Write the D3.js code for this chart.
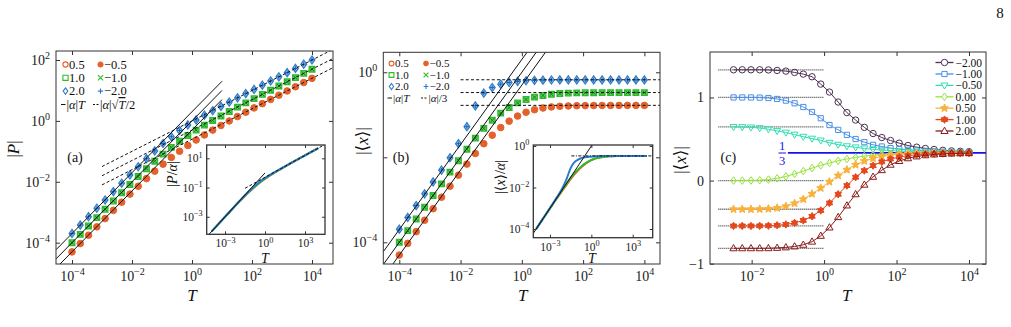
<!DOCTYPE html>
<html><head><meta charset="utf-8">
<script src="https://cdn.jsdelivr.net/npm/d3@7"></script>
<style>body{margin:0;background:#fff}svg{display:block}</style>
</head><body><svg id="c" width="1011" height="327"></svg>
<script>
const FONT='"Liberation Serif","DejaVu Serif",serif';
// ---------- data ----------
const T_ab=[1.000e-4,1.887e-4,3.562e-4,6.723e-4,1.269e-3,2.395e-3,4.520e-3,8.532e-3,1.610e-2,3.039e-2,5.736e-2,0.1083,0.2043,0.3857,0.7279,1.374,2.593,4.894,9.237,17.43,32.91,62.10,117.2,221.2,417.5,788.0,1487,2807,5298,10000];
const alphas_ab=[0.5,1.0,2.0];
const P_a05=[4.98e-5,9.37e-5,1.76e-4,3.31e-4,6.18e-4,1.153e-3,2.14e-3,3.94e-3,7.14e-3,0.01276,0.02234,0.0380,0.0630,0.1007,0.1563,0.2355,0.3459,0.4989,0.7079,0.9954,1.390,1.932,2.673,3.690,5.082,6.998,9.616,13.24,18.20,25.0];
const P_a10=[9.98e-5,1.88e-4,3.55e-4,6.68e-4,1.25e-3,2.34e-3,4.38e-3,8.11e-3,0.01486,0.02685,0.0474,0.0813,0.1349,0.2158,0.3334,0.4977,0.7244,1.035,1.455,2.032,2.825,3.899,5.383,7.413,10.21,14.06,19.28,26.49,36.39,50.0];
const P_a20=[2.00e-4,3.78e-4,7.13e-4,1.35e-3,2.53e-3,4.76e-3,8.95e-3,0.0168,0.0312,0.0574,0.1035,0.1807,0.303,0.483,0.736,1.079,1.538,2.158,3.0,4.15,5.71,7.89,10.8,14.9,20.4,28.1,38.5,53.0,72.8,100];
const X_b05=[5.01e-5,9.44e-5,1.78e-4,3.31e-4,6.17e-4,1.15e-3,2.09e-3,3.80e-3,6.92e-3,0.0123,0.0209,0.0331,0.0501,0.0708,0.0933,0.1148,0.1318,0.1445,0.1531,0.1585,0.1614,0.1633,0.1644,0.1652,0.1656,0.1660,0.1663,0.1663,0.1663,0.1663];
const X_b10=[1.00e-4,1.88e-4,3.55e-4,6.68e-4,1.26e-3,2.37e-3,4.47e-3,8.32e-3,0.0155,0.0282,0.0479,0.0741,0.1096,0.148,0.1905,0.229,0.260,0.285,0.305,0.316,0.324,0.327,0.330,0.331,0.332,0.333,0.333,0.333,0.333,0.333];
const X_b20=[2.04e-4,3.85e-4,7.33e-4,1.38e-3,2.63e-3,5.01e-3,9.77e-3,0.0209,0.0525,0.162,0.324,0.437,0.525,0.575,0.610,0.631,0.646,0.653,0.658,0.662,0.662,0.662,0.662,0.662,0.662,0.662,0.662,0.662,0.662,0.662];
const T_c=[0.003162,0.005503,0.009583,0.01668,0.02904,0.05054,0.08799,0.1532,0.2666,0.4642,0.8081,1.407,2.448,4.262,7.420,12.92,22.49,39.15,68.13,118.6,206.5,359.4,625.7,1089,1896,3300,5745,10000];
const labels_c=['\u22122.00','\u22121.00','\u22120.50','0.00','0.50','1.00','2.00'];
const X_cm200=[1.333,1.333,1.333,1.333,1.331,1.325,1.317,1.301,1.281,1.249,1.161,1.065,0.945,0.818,0.728,0.640,0.566,0.518,0.482,0.450,0.422,0.402,0.386,0.374,0.364,0.357,0.352,0.348];
const X_cm100=[1.0,1.0,1.0,0.998,0.993,0.982,0.962,0.930,0.885,0.825,0.750,0.668,0.610,0.550,0.500,0.462,0.430,0.410,0.390,0.378,0.370,0.362,0.357,0.352,0.348,0.345,0.342,0.340];
const X_cm050=[0.645,0.644,0.640,0.632,0.618,0.598,0.578,0.553,0.528,0.505,0.483,0.455,0.432,0.414,0.400,0.387,0.376,0.366,0.360,0.354,0.350,0.346,0.343,0.340,0.338,0.337,0.336,0.335];
const X_cp000=[0,0,0.001,0.004,0.012,0.027,0.050,0.080,0.114,0.150,0.183,0.212,0.238,0.260,0.279,0.294,0.306,0.315,0.321,0.325,0.328,0.330,0.331,0.332,0.333,0.333,0.333,0.333];
const X_cp050=[-0.345,-0.345,-0.345,-0.344,-0.340,-0.330,-0.310,-0.275,-0.225,-0.160,-0.090,-0.015,0.060,0.130,0.190,0.235,0.268,0.290,0.305,0.315,0.321,0.325,0.328,0.330,0.331,0.332,0.333,0.333];
const X_cp100=[-0.546,-0.546,-0.546,-0.545,-0.543,-0.538,-0.528,-0.510,-0.480,-0.430,-0.360,-0.270,-0.165,-0.060,0.040,0.120,0.180,0.225,0.260,0.283,0.300,0.310,0.318,0.323,0.326,0.329,0.331,0.332];
const X_cp200=[-0.815,-0.815,-0.815,-0.815,-0.814,-0.810,-0.804,-0.793,-0.773,-0.735,-0.665,-0.565,-0.440,-0.300,-0.165,-0.050,0.045,0.125,0.190,0.235,0.268,0.290,0.304,0.314,0.320,0.325,0.328,0.330];
const logTicks_main=[1e-4,1e-2,1e0,1e2,1e4];
const yTicks_a=[1e-4,1e-2,1e0,1e2];
const yTicks_b=[1e-4,1e-2,1e0];
const yTicks_c=[-1,0,1];
const xTicks_c=[1e-2,1e0,1e2,1e4];
const insetXTicks=[1e-3,1e0,1e3];
const insetYTicks_a=[1e-3,1e-1,1e1];
const insetYTicks_b=[1e-4,1e-2,1e0];

// ---------- helpers ----------
const svg=d3.select('#c');
const OR='#e5612c',GR='#2dbb2d',BL='#2b7bcf';
function powLabel(sel,fs,skip){
  sel.each(function(d){
    const t=d3.select(this); t.text(null);
    if(skip && skip.includes(d)) return;
    const e=Math.round(Math.log10(d));
    t.append('tspan').text('10');
    t.append('tspan').attr('dy',-fs*0.42).attr('font-size',fs*0.72).text(e<0?'\u2212'+(-e):String(e));
  });
}
function drawAxes(g,x,y,o){
  const [x0,x1]=x.range(),[y0,y1]=y.range();
  const tk=o.tick||4;
  const bx=g.append('g').attr('transform',`translate(0,${y0})`).call(d3.axisBottom(x).tickValues(o.xt).tickSizeInner(-tk).tickSizeOuter(0).tickPadding(o.xpad||7));
  const tx=g.append('g').attr('transform',`translate(0,${y1})`).call(d3.axisTop(x).tickValues(o.xt).tickSizeInner(-tk).tickSizeOuter(0).tickFormat(''));
  const ly=g.append('g').attr('transform',`translate(${x0},0)`).call(d3.axisLeft(y).tickValues(o.yt).tickSizeInner(-tk).tickSizeOuter(0).tickPadding(o.ypad||6));
  const ry=g.append('g').attr('transform',`translate(${x1},0)`).call(d3.axisRight(y).tickValues(o.yt).tickSizeInner(-tk).tickSizeOuter(0).tickFormat(''));
  [bx,tx,ly,ry].forEach(a=>{a.select('.domain').remove();a.selectAll('line').attr('stroke','#333');
    a.selectAll('text').attr('font-family',FONT).attr('font-size',o.fs).attr('fill','#222');});
  if(o.xlog) powLabel(bx.selectAll('text'),o.fs);
  if(o.ylog) powLabel(ly.selectAll('text'),o.fs,o.yskip);
  else ly.selectAll('text').text(d=>d<0?'\u2212'+(-d):String(d));
  g.append('rect').attr('x',x0).attr('y',y1).attr('width',x1-x0).attr('height',y0-y1)
   .attr('fill','none').attr('stroke','#333').attr('stroke-width',o.frame||1);
}
function starPath(n,R,r){let p='';for(let i=0;i<2*n;i++){const a=-Math.PI/2+i*Math.PI/n,rr=i%2?r:R;p+=(i?'L':'M')+(rr*Math.cos(a)).toFixed(2)+','+(rr*Math.sin(a)).toFixed(2);}return p+'Z';}
const shapes={
  circle:r=>`M${r},0A${r},${r} 0 1,1 ${-r},0A${r},${r} 0 1,1 ${r},0Z`,
  square:r=>`M${-r},${-r}H${r}V${r}H${-r}Z`,
  times:r=>`M${-r},${-r}L${r},${r}M${-r},${r}L${r},${-r}`,
  plus:r=>`M${-r},0H${r}M0,${-r}V${r}`,
  diamond:r=>`M0,${-r*1.4}L${r},0L0,${r*1.4}L${-r},0Z`,
  triUp:r=>`M0,${-r}L${r*0.95},${r*0.65}L${-r*0.95},${r*0.65}Z`,
  triDown:r=>`M0,${r}L${r*0.95},${-r*0.65}L${-r*0.95},${-r*0.65}Z`,
  star5:r=>starPath(5,r,r*0.45),
  hexa:r=>starPath(6,r,r*0.6)
};
function marks(g,xs,ys,x,y,shape,r,stroke,fill,sw){
  g.append('g').selectAll('path').data(xs.map((d,i)=>[d,ys[i]])).join('path')
   .attr('transform',d=>`translate(${x(d[0])},${y(d[1])})`).attr('d',shapes[shape](r))
   .attr('stroke',stroke).attr('fill',fill).attr('stroke-width',sw||1);
}
function txt(g,x,y,parts,fs,anchor,col){
  const t=g.append('text').attr('x',x).attr('y',y).attr('font-size',fs).attr('font-family',FONT)
   .attr('text-anchor',anchor||'start').attr('fill',col||'#111');
  parts.forEach(p=>{const s=t.append('tspan').text(p.t);if(p.i)s.attr('font-style','italic');
    if(p.o)s.style('text-decoration','overline');if(p.dy)s.attr('dy',p.dy);if(p.fs)s.attr('font-size',p.fs);});
  return t;
}
function seg(g,x1,y1,x2,y2,col,sw,dash){const l=g.append('line').attr('x1',x1).attr('y1',y1).attr('x2',x2).attr('y2',y2).attr('stroke',col).attr('stroke-width',sw||1);if(dash)l.attr('stroke-dasharray',dash);return l;}
function clip(id,x,y){const r=x.range(),s=y.range();svg.append('clipPath').attr('id',id).append('rect').attr('x',r[0]).attr('y',s[1]).attr('width',r[1]-r[0]).attr('height',s[0]-s[1]);}
const lineLog=(x,y)=>d3.line().x(d=>x(d[0])).y(d=>y(d[1]));
function drawABMarks(d,s,x,y){
  if(s.a===0.5){marks(d,T_ab,s.v,x,y,'circle',3.3,s.col,s.col,1);}
  if(s.a===1.0){marks(d,T_ab,s.v,x,y,'square',2.8,s.col,'#5fd35f',1.3);marks(d,T_ab,s.v,x,y,'times',1.9,'#187a18','none',1);}
  if(s.a===2.0){marks(d,T_ab,s.v,x,y,'diamond',2.9,s.col,'#a9d0f2',1.2);marks(d,T_ab,s.v,x,y,'plus',2.1,'#1d5fa8','none',1);}
}
function legendAB(g,rows,x1,x2,fs,rad){
  rows.forEach(r=>{
    const drawSym=(sx,sym)=>{
      if(sym==='circleF') g.append('path').attr('transform',`translate(${sx},${r.y})`).attr('d',shapes.circle(rad)).attr('fill',r.c).attr('stroke',r.c);
      else g.append('path').attr('transform',`translate(${sx},${r.y})`).attr('d',shapes[sym](sym==='diamond'?rad*0.9:rad)).attr('fill','none').attr('stroke',r.c).attr('stroke-width',1.1);
    };
    drawSym(x1,r.s1);txt(g,x1+3.5,r.y+fs*0.35,[{t:r.l1}],fs);
    drawSym(x2,r.s2);txt(g,x2+3.5,r.y+fs*0.35,[{t:r.l2}],fs);
  });
}

// ---------- panel (a) ----------
const xA=d3.scaleLog().domain([10**-4.533,10**4.7]).range([56,333]);
const yA=d3.scaleLog().domain([10**-4.70,10**2.296]).range([264,51]);
clip('ca',xA,yA);
const gA=svg.append('g');
const dA=gA.append('g').attr('clip-path','url(#ca)');
const serA=[{a:0.5,v:P_a05,col:OR},{a:1.0,v:P_a10,col:GR},{a:2.0,v:P_a20,col:BL}];
serA.forEach(s=>drawABMarks(dA,s,xA,yA));
const tEnds_a=[xA.domain()[0],10];
const tEndsSqrt_a=[1e-3,xA.domain()[1]];
serA.forEach(s=>{
  dA.append('path').attr('d',lineLog(xA,yA)(tEnds_a.map(t=>[t,s.a*t]))).attr('stroke','#111').attr('fill','none').attr('stroke-width',1);
  dA.append('path').attr('d',lineLog(xA,yA)(tEndsSqrt_a.map(t=>[t,s.a*Math.sqrt(t)/2]))).attr('stroke','#111').attr('fill','none').attr('stroke-width',1).attr('stroke-dasharray','3,2.2');
});
drawAxes(gA,xA,yA,{xt:logTicks_main,yt:yTicks_a,fs:14,xlog:true,ylog:true});
txt(gA,192,301,[{t:'T',i:true}],17,'middle');
txt(gA,0,0,[{t:'|'},{t:'P',i:true},{t:'|'}],17,'middle').attr('transform','translate(19,149) rotate(-90)');
txt(gA,75,162,[{t:'(a)'}],14,'middle');
const legA=gA.append('g');
legendAB(legA,[{y:64.5,s1:'circle',s2:'circleF',l1:'0.5',l2:'\u22120.5',c:OR},{y:77.8,s1:'square',s2:'times',l1:'1.0',l2:'\u22121.0',c:GR},{y:91.1,s1:'diamond',s2:'plus',l1:'2.0',l2:'\u22122.0',c:BL}],65.5,100.5,12.5,2.6);
seg(legA,61,104.5,65.5,104.5,'#111',1);
txt(legA,66.5,109,[{t:'|'},{t:'\u03b1',i:true},{t:'|'},{t:'T',i:true}],12.5);
seg(legA,93,104.5,99,104.5,'#111',1,'2,1.5');
txt(legA,100,109,[{t:'|'},{t:'\u03b1',i:true},{t:'|\u221a'},{t:'T',i:true,o:true},{t:'/2'}],12.5);
// inset (a)
const xAi=d3.scaleLog().domain([10**-4.375,10**4.5]).range([206.7,325]);
const yAi=d3.scaleLog().domain([10**-4.2,10**1.91]).range([234.3,145]);
clip('cai',xAi,yAi);
const gAi=svg.append('g');
gAi.append('rect').attr('x',206.7).attr('y',145).attr('width',118.3).attr('height',89.3).attr('fill','#fff');
const dAi=gAi.append('g').attr('clip-path','url(#cai)');
serA.forEach(s=>{
  dAi.append('path').attr('d',d3.line().curve(d3.curveMonotoneX).x((d,i)=>xAi(T_ab[i])).y(d=>yAi(d/s.a))(s.v)).attr('fill','none').attr('stroke',s.col).attr('stroke-width',2);
});
const tEnds_ai=[xAi.domain()[0],1];
const tEndsSqrt_ai=[10**-1.5,xAi.domain()[1]];
dAi.append('path').attr('d',lineLog(xAi,yAi)(tEnds_ai.map(t=>[t,t]))).attr('stroke','#111').attr('fill','none').attr('stroke-width',1);
dAi.append('path').attr('d',lineLog(xAi,yAi)(tEndsSqrt_ai.map(t=>[t,Math.sqrt(t)/2]))).attr('stroke','#111').attr('fill','none').attr('stroke-width',1).attr('stroke-dasharray','3,2');
drawAxes(gAi,xAi,yAi,{xt:insetXTicks,yt:insetYTicks_a,fs:11.5,xlog:true,ylog:true,tick:3,xpad:5,ypad:4,frame:1.3});
txt(gAi,265,263,[{t:'T',i:true}],14,'middle');
txt(gAi,0,0,[{t:'|'},{t:'P',i:true},{t:'/'},{t:'\u03b1',i:true},{t:'|'}],14,'middle').attr('transform','translate(177,174) rotate(-90)');

// ---------- panel (b) ----------
const xB=d3.scaleLog().domain([10**-4.522,10**4.51]).range([383.3,660]);
const yB=d3.scaleLog().domain([10**-4.51,10**0.47]).range([264,52.3]);
clip('cb',xB,yB);
const gB=svg.append('g');
const dB=gB.append('g').attr('clip-path','url(#cb)');
const serB=[{a:0.5,v:X_b05,col:OR},{a:1.0,v:X_b10,col:GR},{a:2.0,v:X_b20,col:BL}];
serB.forEach(s=>drawABMarks(dB,s,xB,yB));
const tEnds_b=[xB.domain()[0],10];
const tEndsSat_b=[1e-2,xB.domain()[1]];
serB.forEach(s=>{
  dB.append('path').attr('d',lineLog(xB,yB)(tEnds_b.map(t=>[t,s.a*t]))).attr('stroke','#111').attr('fill','none').attr('stroke-width',1);
  dB.append('path').attr('d',lineLog(xB,yB)(tEndsSat_b.map(t=>[t,s.a/3]))).attr('stroke','#111').attr('fill','none').attr('stroke-width',1).attr('stroke-dasharray','3,2.2');
});
drawAxes(gB,xB,yB,{xt:logTicks_main,yt:yTicks_b,fs:14,xlog:true,ylog:true,yskip:[1e-2]});
txt(gB,522.7,301,[{t:'T',i:true}],17,'middle');
txt(gB,0,0,[{t:'|\u27e8'},{t:'x',i:true},{t:'\u27e9|'}],17,'middle').attr('transform','translate(368,141) rotate(-90)');
txt(gB,401,162,[{t:'(b)'}],14,'middle');
const legB=gB.append('g');
legendAB(legB,[{y:63.5,s1:'circle',s2:'circleF',l1:'0.5',l2:'\u22120.5',c:OR},{y:75,s1:'square',s2:'times',l1:'1.0',l2:'\u22121.0',c:GR},{y:86.5,s1:'diamond',s2:'plus',l1:'2.0',l2:'\u22122.0',c:BL}],391.5,426,11,2.4);
seg(legB,387.5,98,392,98,'#111',1);
txt(legB,393,101.8,[{t:'|'},{t:'\u03b1',i:true},{t:'|'},{t:'T',i:true}],11);
seg(legB,421,98,427,98,'#111',1,'2,1.5');
txt(legB,428.5,101.8,[{t:'|'},{t:'\u03b1',i:true},{t:'|/3'}],11);
// inset (b)
const xBi=d3.scaleLog().domain([10**-4.21,10**4.45]).range([533.3,652.7]);
const yBi=d3.scaleLog().domain([10**-4.42,10**0.048]).range([237.7,145]);
clip('cbi',xBi,yBi);
const gBi=svg.append('g');
gBi.append('rect').attr('x',533.3).attr('y',145).attr('width',119.4).attr('height',92.7).attr('fill','#fff');
const dBi=gBi.append('g').attr('clip-path','url(#cbi)');
serB.forEach(s=>{
  dBi.append('path').attr('d',d3.line().curve(d3.curveMonotoneX).x((d,i)=>xBi(T_ab[i])).y(d=>yBi(d/s.a))(s.v)).attr('fill','none').attr('stroke',s.col).attr('stroke-width',2);
});
const tEnds_bi=[xBi.domain()[0],10];
const tEndsSat_bi=[10**-1.45,xBi.domain()[1]];
dBi.append('path').attr('d',lineLog(xBi,yBi)(tEnds_bi.map(t=>[t,t]))).attr('stroke','#111').attr('fill','none').attr('stroke-width',1);
dBi.append('path').attr('d',lineLog(xBi,yBi)(tEndsSat_bi.map(t=>[t,1/3]))).attr('stroke','#111').attr('fill','none').attr('stroke-width',1).attr('stroke-dasharray','3,1.5,1,1.5');
drawAxes(gBi,xBi,yBi,{xt:insetXTicks,yt:insetYTicks_b,fs:11.5,xlog:true,ylog:true,tick:3,xpad:5,ypad:4,frame:1.3});
txt(gBi,592,263,[{t:'T',i:true}],14,'middle');
txt(gBi,0,0,[{t:'|\u27e8'},{t:'x',i:true},{t:'\u27e9/'},{t:'\u03b1',i:true},{t:'|'}],14,'middle').attr('transform','translate(505,177) rotate(-90)');

// ---------- panel (c) ----------
const xC=d3.scaleLog().domain([10**-3.15,10**4.47]).range([710,986]);
const yC=d3.scaleLinear().domain([-1.004,1.547]).range([264,52]);
const gC=svg.append('g');
const serC=[
 {v:X_cm200,col:'#4d2f52',sh:'circle',r:3.2,fill:'none'},
 {v:X_cm100,col:'#4a8fe7',sh:'square',r:2.6,fill:'none'},
 {v:X_cm050,col:'#33dfb2',sh:'triDown',r:3.7,fill:'none'},
 {v:X_cp000,col:'#96e23a',sh:'diamond',r:2.7,fill:'none'},
 {v:X_cp050,col:'#f8b23c',sh:'star5',r:4.2,fill:'#f8b23c'},
 {v:X_cp100,col:'#e4471b',sh:'hexa',r:3.7,fill:'#e4471b'},
 {v:X_cp200,col:'#8a1b1b',sh:'triUp',r:3.8,fill:'none'}];
const tEndsLow_c=[10**-2.92,1];
serC.forEach(s=>{
  gC.append('path').attr('d',d3.line().x(t=>xC(t)).y(()=>yC(s.v[0]))(tEndsLow_c)).attr('stroke','#444').attr('stroke-width',1.3).attr('stroke-dasharray','1,1').attr('fill','none');
});
const tEndsThird_c=[0.1,xC.domain()[1]];
gC.append('path').attr('d',d3.line().x(t=>xC(t)).y(()=>yC(1/3))(tEndsThird_c)).attr('stroke','#1414e8').attr('stroke-width',1.6).attr('fill','none');
serC.forEach(s=>{
  gC.append('path').attr('d',d3.line().x((d,i)=>xC(T_c[i])).y(d=>yC(d))(s.v)).attr('stroke',s.col).attr('stroke-width',1).attr('fill','none');
  marks(gC,T_c,s.v,xC,yC,s.sh,s.r,s.col,s.fill,1);
});
drawAxes(gC,xC,yC,{xt:xTicks_c,yt:yTicks_c,fs:14,xlog:true,ylog:false});
txt(gC,846.7,301,[{t:'T',i:true}],17,'middle');
txt(gC,0,0,[{t:'|\u27e8'},{t:'x',i:true},{t:'\u27e9|'}],17,'middle').attr('transform','translate(686,160) rotate(-90)');
txt(gC,728.3,162,[{t:'(c)'}],14,'middle');
txt(gC,782,150,[{t:'1'}],12.5,'middle','#1414e8');
seg(gC,778.5,153,786,153,'#1414e8',1);
txt(gC,782,165,[{t:'3'}],12.5,'middle','#1414e8');
const legYc=[62.5,74,85.4,96.8,108.2,119.6,131];
serC.forEach((s,i)=>{
  seg(gC,935.5,legYc[i],953.5,legYc[i],s.col,1.3);
  gC.append('path').attr('transform',`translate(944.5,${legYc[i]})`).attr('d',shapes[s.sh](s.r)).attr('stroke',s.col).attr('fill',s.fill==='none'?'#fff':s.fill).attr('stroke-width',1);
  txt(gC,955.5,legYc[i]+4,[{t:labels_c[i]}],11.5);
});
txt(svg,1000,18,[{t:'8'}],15,'middle');
</script></body></html>
